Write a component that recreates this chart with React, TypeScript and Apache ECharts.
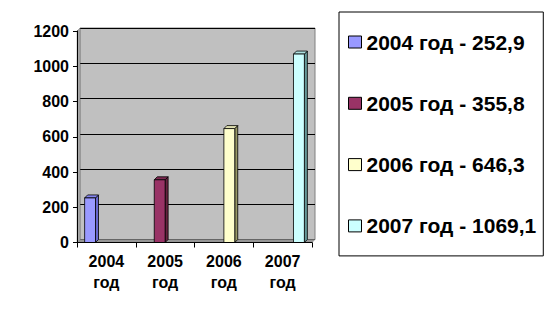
import React, { useEffect, useRef } from "react";
import * as echarts from "echarts";

const years = ["2004", "2005", "2006", "2007"];
const values = [252.9, 355.8, 646.3, 1069.1];
const frontColors = ["#9999FF", "#993366", "#FFFFCC", "#CCFFFF"];
const sideColors = ["#6666CC", "#66223F", "#999966", "#669999"];
const topColors = ["#8585EE", "#7E2A52", "#E0E0B0", "#AEE0E0"];
const yTicks = { min: 0, max: 1200, interval: 200 };

const FONT = "'Liberation Sans', Arial, sans-serif";
const DEPTH = 3;

export default function App() {
  const ref = useRef<HTMLDivElement>(null);
  useEffect(() => {
    document.body.style.margin = "0";
    const chart = echarts.init(ref.current!, null, { renderer: "svg" });
    const names = years.map(
      (y, i) => `${y} год - ${String(values[i]).replace(".", ",")}`
    );
    const makeRender = (si: number) => (params: any, api: any) => {
      const cat = api.value(0);
      const v = api.value(1);
      const top = api.coord([cat, v]);
      const base = api.coord([cat, 0]);
      const band = api.size([1, 0])[0];
      const bw = band * 0.185;
      const x = top[0] - 2 * bw + si * bw;
      const d = DEPTH;
      const line = { stroke: "#000", lineWidth: 0.8 };
      return {
        type: "group",
        children: [
          {
            type: "polygon",
            shape: {
              points: [
                [x + bw, top[1]],
                [x + bw + d, top[1] - d],
                [x + bw + d, base[1] - d],
                [x + bw, base[1]],
              ],
            },
            style: { fill: sideColors[si], ...line },
          },
          {
            type: "polygon",
            shape: {
              points: [
                [x, top[1]],
                [x + d, top[1] - d],
                [x + bw + d, top[1] - d],
                [x + bw, top[1]],
              ],
            },
            style: { fill: topColors[si], ...line },
          },
          {
            type: "rect",
            shape: { x, y: top[1], width: bw, height: base[1] - top[1] },
            style: { fill: frontColors[si], ...line },
          },
        ],
      };
    };
    chart.setOption({
      animation: false,
      backgroundColor: "#fff",
      color: frontColors,
      textStyle: { fontFamily: FONT },
      grid: [
        {
          left: 80,
          top: 28,
          width: 235,
          height: 211.5,
          show: true,
          backgroundColor: "#C0C0C0",
          borderColor: "#808080",
          borderWidth: 1,
          z: 0,
        },
        {
          left: 77,
          top: 31,
          width: 235,
          height: 211.5,
          show: false,
        },
      ],
      xAxis: [
        {
          gridIndex: 0,
          type: "category",
          data: years,
          show: false,
        },
        {
          gridIndex: 1,
          type: "category",
          data: years,
          z: 4,
          axisLine: { show: true, lineStyle: { color: "#000", width: 1 } },
          axisTick: { show: true, length: 5, lineStyle: { color: "#000" } },
          axisLabel: {
            color: "#000",
            fontWeight: "bold",
            fontSize: 16,
            lineHeight: 21,
            margin: 8,
            fontFamily: FONT,
            formatter: (v: string) => `${v}\nгод`,
          },
        },
      ],
      yAxis: [
        {
          gridIndex: 0,
          type: "value",
          ...yTicks,
          axisLine: { show: false },
          axisTick: { show: false },
          axisLabel: { show: false },
          splitLine: { show: true, lineStyle: { color: "#000", width: 1 } },
        },
        {
          gridIndex: 1,
          type: "value",
          ...yTicks,
          z: 4,
          axisLine: { show: true, lineStyle: { color: "#000", width: 1 } },
          axisTick: { show: true, length: 4, lineStyle: { color: "#000" } },
          splitLine: { show: false },
          axisLabel: {
            color: "#000",
            fontWeight: "bold",
            fontSize: 16,
            margin: 8,
            fontFamily: FONT,
            formatter: (v: number) => String(v),
          },
        },
      ],
      graphic: [
        {
          type: "polygon",
          z: 1,
          shape: {
            points: [
              [77, 242.5],
              [312, 242.5],
              [315, 239.5],
              [80, 239.5],
            ],
          },
          style: { fill: "#969696", stroke: "#808080", lineWidth: 0.5 },
        },
        {
          type: "polygon",
          z: 1,
          shape: {
            points: [
              [77, 31],
              [80, 28],
              [80, 239.5],
              [77, 242.5],
            ],
          },
          style: { fill: "#A8A8A8", stroke: "#808080", lineWidth: 0.5 },
        },
      ],
      legend: {
        orient: "vertical",
        left: 339,
        top: 12,
        padding: [19.5, 7, 19.5, 9],
        itemGap: 40.3,
        itemWidth: 13,
        itemHeight: 12,
        icon: "rect",
        borderColor: "#000",
        borderWidth: 1,
        backgroundColor: "#fff",
        selectedMode: false,
        itemStyle: { borderColor: "#000", borderWidth: 1 },
        textStyle: {
          color: "#000",
          fontWeight: "bold",
          fontSize: 21,
          lineHeight: 21,
          fontFamily: FONT,
        },
        data: names,
      },
      series: years.map((y, i) => ({
        type: "custom",
        name: names[i],
        xAxisIndex: 1,
        yAxisIndex: 1,
        z: 3,
        itemStyle: { color: frontColors[i] },
        encode: { x: 0, y: 1 },
        renderItem: makeRender(i),
        data: [[i, values[i]]],
      })),
    });
    return () => chart.dispose();
  }, []);
  return (
    <div
      ref={ref}
      style={{ position: "fixed", left: 0, top: 0, width: 556, height: 314 }}
    />
  );
}
